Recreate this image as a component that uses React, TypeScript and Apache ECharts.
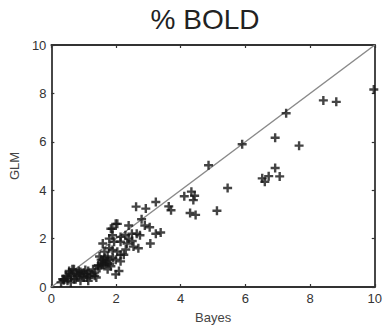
import React, { useEffect, useRef } from "react";
import * as echarts from "echarts";

// Percent BOLD signal change: Bayesian estimate (x) vs GLM estimate (y)
const bayes: number[] = [
  9.97, 8.41, 8.81, 7.26, 6.92, 7.66, 6.92, 7.06, 6.72, 6.52, 6.6, 5.9,
  4.86, 5.45, 5.12, 4.11, 4.33, 4.43, 4.39, 4.29, 4.46, 3.23, 3.63, 3.7,
  2.62, 2.92, 1.99, 1.89, 2.79, 2.89, 3.04, 3.38, 3.23, 2.74, 2.64, 3.06,
  2.39, 2.54, 2.69, 2.14, 1.94, 1.79, 2.04, 2.24, 1.74, 2.14,
  2.04, 1.84, 1.89, 1.79, 2.39, 2.29, 2.49, 1.59, 2.14, 2.34, 1.64, 1.89,
  1.49, 1.74, 1.59, 1.99, 2.14, 1.44, 1.29, 1.74, 1.84, 1.39, 1.99, 1.14,
  1.0, 0.85, 0.7, 0.55, 0.6, 0.45, 0.8, 1.0, 1.19, 0.35, 0.5, 0.7, 0.9,
  0.3, 0.6, 1.14, 1.64, 1.54, 1.49, 1.09, 1.24, 1.34, 0.95, 0.75, 0.65,
  0.4, 0.55, 0.9, 1.1, 2.09, 1.69, 1.34, 0.85, 0.5, 0.38, 0.62, 0.78,
  1.05, 1.45, 1.6, 2.3, 2.5, 1.7, 1.8, 1.55, 1.9, 1.65,
];
const glm: number[] = [
  8.16, 7.71, 7.65, 7.18, 6.17, 5.84, 4.92, 4.57, 4.58, 4.49, 4.35, 5.9,
  5.03, 4.09, 3.15, 3.75, 3.94, 3.77, 3.59, 3.06, 2.98, 3.51, 3.33, 3.17,
  3.32, 3.24, 2.61, 2.41, 2.8, 2.54, 2.47, 2.25, 2.2, 2.14, 2.2, 1.8,
  2.0, 1.67, 1.6, 2.07, 1.87, 1.6, 1.46, 1.33, 1.26, 1.06,
  2.61, 2.41, 2.14, 2.0, 2.54, 2.14, 2.2, 1.8, 1.87, 1.8, 1.46, 1.53,
  1.26, 1.13, 1.0, 1.13, 1.33, 0.86, 0.73, 0.73, 0.86, 0.39, 0.52, 0.66,
  0.59, 0.66, 0.73, 0.66, 0.52, 0.46, 0.46, 0.39, 0.46, 0.32, 0.26, 0.32, 0.26,
  0.19, 0.19, 0.26, 0.93, 1.13, 0.79, 0.52, 0.52, 0.46, 0.46, 0.32, 0.73,
  0.32, 0.59, 0.62, 0.39, 0.66, 0.95, 0.6, 0.55, 0.38, 0.28, 0.44, 0.55,
  0.7, 0.9, 1.1, 1.55, 1.9, 1.05, 0.95, 0.9, 1.2, 1.2,
];

// Identity reference line
const identity: number[][] = [
  [0, 0],
  [10, 10],
];

const titleText = "% BOLD";
const xName = "Bayes";
const yName = "GLM";

const PLUS = "path://M3.3,0H5.7V3.3H9V5.7H5.7V9H3.3V5.7H0V3.3H3.3Z";
const FONT = "'Liberation Sans', Arial, sans-serif";

export default function App() {
  const ref = useRef<HTMLDivElement>(null);

  useEffect(() => {
    if (!ref.current) return;
    const chart = echarts.init(ref.current, undefined, { renderer: "svg" });

    const frameLine = { show: true, onZero: false, lineStyle: { color: "#333", width: 1.8 } };
    const innerTick = { show: true, inside: true, length: 3, lineStyle: { color: "#333", width: 1.2 } };
    const label = { color: "#333", fontSize: 13, fontFamily: FONT, margin: 5 };

    const points = bayes.map((x, i) => [x, glm[i]]);

    chart.setOption({
      animation: false,
      backgroundColor: "#fff",
      title: {
        text: titleText,
        left: 200,
        textAlign: "center",
        top: 0,
        textStyle: { fontSize: 28, fontWeight: "normal", color: "#222", fontFamily: FONT },
      },
      grid: { left: 45, top: 45, right: 5, bottom: 36, containLabel: false },
      xAxis: [
        {
          type: "value",
          min: 0,
          max: 10,
          interval: 2,
          axisLine: frameLine,
          axisTick: innerTick,
          axisLabel: label,
          splitLine: { show: false },
          name: xName,
          nameLocation: "middle",
          nameGap: 24,
          nameTextStyle: { fontSize: 13, color: "#444", fontFamily: FONT },
        },
        {
          type: "value",
          position: "top",
          min: 0,
          max: 10,
          interval: 2,
          axisLine: frameLine,
          axisTick: innerTick,
          axisLabel: { show: false },
          splitLine: { show: false },
        },
      ],
      yAxis: [
        {
          type: "value",
          min: 0,
          max: 10,
          interval: 2,
          axisLine: frameLine,
          axisTick: innerTick,
          axisLabel: label,
          splitLine: { show: false },
          name: yName,
          nameLocation: "middle",
          nameGap: 27,
          nameTextStyle: { fontSize: 13, color: "#444", fontFamily: FONT },
        },
        {
          type: "value",
          position: "right",
          min: 0,
          max: 10,
          interval: 2,
          axisLine: frameLine,
          axisTick: innerTick,
          axisLabel: { show: false },
          splitLine: { show: false },
        },
      ],
      series: [
        {
          type: "line",
          data: identity,
          symbol: "none",
          lineStyle: { color: "#8a8a8a", width: 1.5 },
          z: 1,
        },
        {
          type: "scatter",
          data: points,
          symbol: PLUS,
          symbolSize: 9,
          itemStyle: { color: "#151515" },
          z: 2,
        },
      ],
    });

    return () => chart.dispose();
  }, []);

  return (
    <div
      ref={ref}
      style={{ position: "absolute", left: 0, top: 0, width: 385, height: 329, background: "#fff" }}
    />
  );
}
